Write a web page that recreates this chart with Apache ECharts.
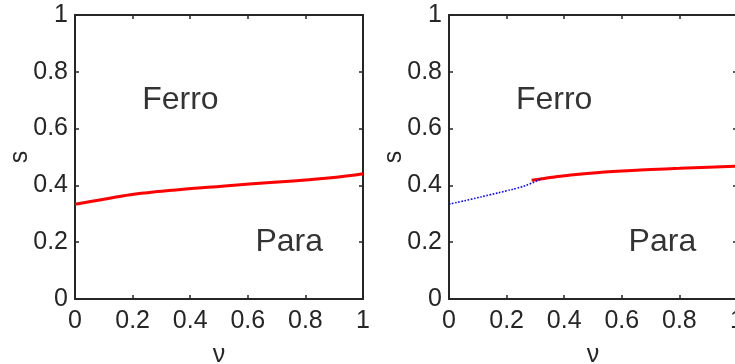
<!DOCTYPE html>
<html>
<head>
<meta charset="utf-8">
<script src="https://cdn.jsdelivr.net/npm/echarts@6/dist/echarts.min.js"></script>
<style>
  html, body { margin: 0; padding: 0; background: #fff; }
  #chart { width: 735px; height: 364px; }
</style>
</head>
<body>
<div id="chart"></div>
<script>
// 数据
const nuLeft = [0, 0.12, 0.23, 0.35, 0.52, 0.69, 0.87, 1];
const sLeft = [0.3335, 0.3546, 0.372, 0.3838, 0.398, 0.411, 0.425, 0.441];
const nuRightRed = [0.287, 0.33, 0.4, 0.5, 0.6, 0.7, 0.8, 0.9, 1];
const sRightRed = [0.418, 0.4245, 0.434, 0.444, 0.451, 0.456, 0.460, 0.464, 0.4675];
const nuRightBlue = [0, 0.08, 0.142, 0.2, 0.235, 0.28, 0.322];
const sRightBlue = [0.334, 0.352, 0.367, 0.381, 0.390, 0.405, 0.425];
const regionNames = ['Ferro', 'Para'];
const regionLeft = [[0.366, 0.70], [0.744, 0.20]];
const regionRight = [[0.365, 0.70], [0.741, 0.20]];

const axisColor = '#262626';
const fontFamily = 'Liberation Sans';

function pairs(xs, ys) {
    return xs.map((x, i) => [x, ys[i]]);
}

const tickStyle = { show: true, inside: true, length: 4, lineStyle: { color: axisColor, width: 1.5 } };
const lineStyleAx = { show: true, onZero: false, lineStyle: { color: axisColor, width: 2 } };

function mainX(gi) {
    return {
        type: 'value', gridIndex: gi, min: 0, max: 1, interval: 0.2,
        position: 'bottom',
        name: 'ν', nameLocation: 'middle', nameGap: 44, nameMoveOverlap: false,
        nameTextStyle: { fontSize: 25, color: axisColor, fontFamily: fontFamily },
        axisLine: lineStyleAx,
        axisTick: tickStyle,
        axisLabel: { show: true, margin: 10, fontSize: 25, color: axisColor, fontFamily: fontFamily,
            formatter: v => String(+v.toFixed(1)) },
        splitLine: { show: false }
    };
}
function topX(gi) {
    return {
        type: 'value', gridIndex: gi, min: 0, max: 1, interval: 0.2,
        position: 'top',
        axisLine: lineStyleAx,
        axisTick: tickStyle,
        axisLabel: { show: false },
        splitLine: { show: false }
    };
}
function mainY(gi) {
    return {
        type: 'value', gridIndex: gi, min: 0, max: 1, interval: 0.2,
        position: 'left',
        name: 's', nameLocation: 'middle', nameGap: 42, nameRotate: 90, nameMoveOverlap: false,
        nameTextStyle: { fontSize: 25, color: axisColor, fontFamily: fontFamily },
        axisLine: lineStyleAx,
        axisTick: tickStyle,
        axisLabel: { show: true, margin: 7, fontSize: 25, color: axisColor, fontFamily: fontFamily,
            formatter: v => String(+v.toFixed(1)) },
        splitLine: { show: false }
    };
}
function rightY(gi) {
    return {
        type: 'value', gridIndex: gi, min: 0, max: 1, interval: 0.2,
        position: 'right',
        axisLine: lineStyleAx,
        axisTick: tickStyle,
        axisLabel: { show: false },
        splitLine: { show: false }
    };
}

function labelSeries(xi, yi, pos) {
    return {
        type: 'scatter', xAxisIndex: xi, yAxisIndex: yi,
        symbolSize: 0, silent: true, z: 5,
        data: pos.map((p, i) => ({ value: p, name: regionNames[i] })),
        label: {
            show: true, position: 'inside', formatter: '{b}',
            fontSize: 32, color: '#000', fontFamily: fontFamily,
            textBorderWidth: 0
        }
    };
}

const chart = echarts.init(document.getElementById('chart'), null, { renderer: 'canvas' });
chart.setOption({
    animation: false,
    backgroundColor: '#fff',
    grid: [
        { left: 75, top: 15, width: 288, height: 284, outerBoundsMode: 'none', containLabel: false },
        { left: 449, top: 15, width: 288, height: 284, outerBoundsMode: 'none', containLabel: false }
    ],
    xAxis: [mainX(0), topX(0), mainX(1), topX(1)],
    yAxis: [mainY(0), rightY(0), mainY(1), rightY(1)],
    series: [
        {
            type: 'line', xAxisIndex: 0, yAxisIndex: 0, showSymbol: false, smooth: 0.6,
            data: pairs(nuLeft, sLeft),
            lineStyle: { color: '#ff0000', width: 3 }
        },
        {
            type: 'line', xAxisIndex: 2, yAxisIndex: 2, showSymbol: false, smooth: 0.6,
            data: pairs(nuRightRed, sRightRed),
            lineStyle: { color: '#ff0000', width: 3 }
        },
        {
            type: 'line', xAxisIndex: 2, yAxisIndex: 2, showSymbol: false, smooth: 0.6,
            data: pairs(nuRightBlue, sRightBlue),
            lineStyle: { color: '#0000ff', width: 1.6, type: [1.6, 1.6] }
        },
        labelSeries(0, 0, regionLeft),
        labelSeries(2, 2, regionRight)
    ]
});
</script>
</body>
</html>
